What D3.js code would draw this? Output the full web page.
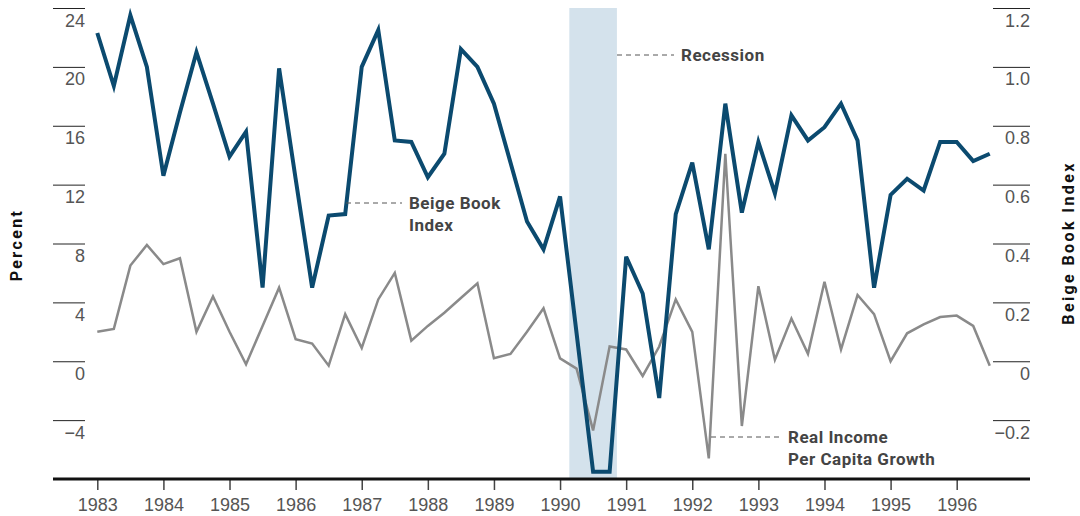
<!DOCTYPE html>
<html>
<head>
<meta charset="utf-8">
<script src="https://cdn.jsdelivr.net/npm/d3@7"></script>
<style>
  body { margin: 0; background: #fff; }
  svg { font-family: "Roboto", "Liberation Sans", sans-serif; }
  .tick text { fill: #555; font-size: 18px; }
  .note { fill: #444; font-size: 17px; font-weight: bold; letter-spacing: 0.5px; }
  .title { fill: #111; font-size: 16px; font-weight: bold; letter-spacing: 2.4px; }
</style>
</head>
<body>
<svg id="chart" width="1080" height="516"></svg>
<script>
// quarterly observations, 1983Q1 .. 1996Q3
var quarters = [
  "1983Q1","1983Q2","1983Q3","1983Q4","1984Q1","1984Q2","1984Q3","1984Q4",
  "1985Q1","1985Q2","1985Q3","1985Q4","1986Q1","1986Q2","1986Q3","1986Q4",
  "1987Q1","1987Q2","1987Q3","1987Q4","1988Q1","1988Q2","1988Q3","1988Q4",
  "1989Q1","1989Q2","1989Q3","1989Q4","1990Q1","1990Q2","1990Q3","1990Q4",
  "1991Q1","1991Q2","1991Q3","1991Q4","1992Q1","1992Q2","1992Q3","1992Q4",
  "1993Q1","1993Q2","1993Q3","1993Q4","1994Q1","1994Q2","1994Q3","1994Q4",
  "1995Q1","1995Q2","1995Q3","1995Q4","1996Q1","1996Q2","1996Q3"
];

// Beige Book Index (right axis)
var beigeBook = [
  1.115, 0.935, 1.175, 1.000, 0.630, 0.845, 1.050, 0.875,
  0.695, 0.780, 0.250, 0.995, 0.620, 0.250, 0.495, 0.500,
  1.000, 1.125, 0.750, 0.745, 0.625, 0.705, 1.060, 1.000,
  0.875, 0.675, 0.475, 0.380, 0.560, 0.095, -0.375, -0.375,
  0.355, 0.230, -0.125, 0.500, 0.675, 0.380, 0.875, 0.505,
  0.745, 0.570, 0.835, 0.750, 0.795, 0.875, 0.750, 0.250,
  0.565, 0.620, 0.580, 0.745, 0.745, 0.680, 0.705
];

// Real income per capita growth, percent (left axis)
var incomeGrowth = [
  2.0, 2.2, 6.5, 7.9, 6.6, 7.0, 2.0, 4.4,
  2.0, -0.2, 2.4, 5.0, 1.5, 1.2, -0.3, 3.2,
  0.9, 4.2, 6.0, 1.4, 2.4, 3.3, 4.3, 5.3,
  0.2, 0.5, 2.0, 3.6, 0.2, -0.5, -4.7, 1.0,
  0.8, -1.0, 1.0, 4.2, 2.0, -6.6, 14.1, -4.4,
  5.1, 0.1, 2.9, 0.5, 5.4, 0.8, 4.5, 3.2,
  0.0, 1.9, 2.5, 3.0, 3.1, 2.4, -0.3
];

var yearTicks = [1983,1984,1985,1986,1987,1988,1989,1990,1991,1992,1993,1994,1995,1996];
var percentTicks = [24, 20, 16, 12, 8, 4, 0, -4];
var indexTicks = [1.2, 1.0, 0.8, 0.6, 0.4, 0.2, 0, -0.2];
var recession = [1990.14, 1990.86];

function qToYear(q) { return +q.slice(0, 4) + (+q.slice(5) - 1) / 4; }

var plotLeft = 53, plotRight = 1030, plotTop = 8, plotBottom = 479;

var svg = d3.select("#chart");

var x = d3.scaleLinear().domain([1983, 1996]).range([97.3, 956.7]);
var yPct = d3.scaleLinear().domain([-8, 24]).range([plotBottom, plotTop]);
var yIdx = d3.scaleLinear().domain([-0.4, 1.2]).range([plotBottom, plotTop]);

// recession shading
svg.append("rect")
    .attr("x", x(recession[0]))
    .attr("y", plotTop)
    .attr("width", x(recession[1]) - x(recession[0]))
    .attr("height", plotBottom - plotTop)
    .attr("fill", "#d4e2ec");

// left axis
var gl = svg.append("g")
    .attr("transform", "translate(85,0)")
    .call(d3.axisLeft(yPct).tickValues(percentTicks).tickSize(32).tickFormat(d3.format("d")));
gl.select(".domain").remove();
gl.selectAll(".tick line").attr("stroke", "#222");
gl.selectAll(".tick text").attr("x", 0).attr("dy", 0).attr("y", 18);

// right axis
var gr = svg.append("g")
    .attr("transform", "translate(1030,0)")
    .call(d3.axisLeft(yIdx).tickValues(indexTicks).tickSize(37)
      .tickFormat(function(d) { return d === 0 ? "0" : d3.format(".1f")(d); }));
gr.select(".domain").remove();
gr.selectAll(".tick line").attr("stroke", "#222");
gr.selectAll(".tick text").attr("x", 0).attr("dy", 0).attr("y", 18);

// x axis
var gx = svg.append("g")
    .attr("transform", "translate(0," + plotBottom + ")")
    .call(d3.axisBottom(x).tickValues(yearTicks).tickSize(11).tickPadding(6).tickFormat(d3.format("d")));
gx.select(".domain").remove();
gx.selectAll(".tick line").attr("stroke", "#444").attr("stroke-width", 1.5);
gx.selectAll(".tick text").attr("dy", "0.85em");

svg.append("line")
    .attr("x1", plotLeft).attr("x2", plotRight)
    .attr("y1", plotBottom).attr("y2", plotBottom)
    .attr("stroke", "#111").attr("stroke-width", 3);

// lines
var incomeLine = d3.line()
    .x(function(d, i) { return x(qToYear(quarters[i])); })
    .y(function(d) { return yPct(d); });
var beigeLine = d3.line()
    .x(function(d, i) { return x(qToYear(quarters[i])); })
    .y(function(d) { return yIdx(d); });

svg.append("path")
    .datum(incomeGrowth)
    .attr("d", incomeLine)
    .attr("fill", "none")
    .attr("stroke", "#8a8a8a")
    .attr("stroke-width", 2.5)
    .attr("stroke-linejoin", "miter");

svg.append("path")
    .datum(beigeBook)
    .attr("d", beigeLine)
    .attr("fill", "none")
    .attr("stroke", "#0b4a6f")
    .attr("stroke-width", 4)
    .attr("stroke-linejoin", "miter");

// annotations
function note(x1, x2, y, lines) {
  svg.append("line")
      .attr("x1", x1).attr("x2", x2).attr("y1", y).attr("y2", y)
      .attr("stroke", "#555").attr("stroke-width", 1).attr("stroke-dasharray", "5,4");
  var t = svg.append("text").attr("class", "note").attr("x", x2 + 7).attr("y", y + 6);
  lines.forEach(function(s, i) {
    t.append("tspan").attr("x", x2 + 7).attr("dy", i ? 22 : 0).text(s);
  });
}
note(617, 674, 55, ["Recession"]);
note(346, 402, 203, ["Beige Book", "Index"]);
note(711, 781, 437, ["Real Income", "Per Capita Growth"]);

// axis titles
svg.append("text").attr("class", "title")
    .attr("transform", "translate(22,245) rotate(-90)")
    .attr("text-anchor", "middle")
    .text("Percent");
svg.append("text").attr("class", "title")
    .attr("transform", "translate(1074,243) rotate(-90)")
    .attr("text-anchor", "middle")
    .text("Beige Book Index");
</script>
</body>
</html>
